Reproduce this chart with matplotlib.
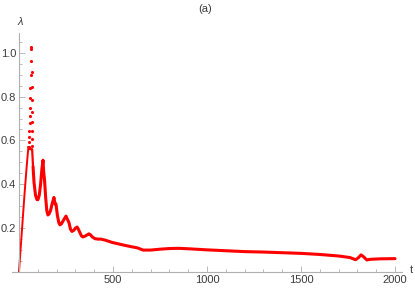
import matplotlib.pyplot as plt
from matplotlib.ticker import MultipleLocator

plt.rcParams['font.family'] = ['Liberation Sans', 'DejaVu Sans']

# main curve lambda(t)
t = [0, 10, 20, 30, 40, 50, 58, 64, 70, 75, 80, 88, 96, 101, 108, 115, 122, 128,
     131, 136, 142, 148, 154, 160, 168, 176, 186, 192, 197, 204, 212, 218, 226,
     236, 250, 258, 266, 274, 282, 292, 300, 309, 316, 324, 332, 340, 350, 360,
     372, 380, 390, 404, 420, 436, 460, 495, 530, 560, 600, 630, 660, 700, 750,
     800, 850, 900, 1000, 1100, 1200, 1300, 1400, 1500, 1600, 1700, 1760, 1790,
     1805, 1819, 1832, 1850, 1870, 1920, 2000]
lam = [0.0, 0.12, 0.24, 0.36, 0.47, 0.57, 0.56, 0.56, 0.56, 0.48, 0.41, 0.35,
       0.33, 0.33, 0.35, 0.40, 0.47, 0.51, 0.46, 0.42, 0.34, 0.28, 0.26, 0.265,
       0.28, 0.31, 0.34, 0.31, 0.31, 0.26, 0.225, 0.215, 0.22, 0.235, 0.255,
       0.24, 0.225, 0.195, 0.185, 0.19, 0.20, 0.205, 0.195, 0.18, 0.165, 0.16,
       0.163, 0.168, 0.174, 0.17, 0.16, 0.152, 0.15, 0.15, 0.145, 0.135, 0.128,
       0.122, 0.115, 0.11, 0.10, 0.10, 0.104, 0.107, 0.108, 0.106, 0.101, 0.097,
       0.093, 0.091, 0.088, 0.085, 0.080, 0.073, 0.066, 0.056, 0.065, 0.078,
       0.070, 0.055, 0.058, 0.060, 0.061]

# scattered points of the fast oscillation near the first peak
t_dots = [64, 64, 64, 69, 64, 69, 59, 59, 69, 59, 69, 59, 69, 59, 53, 69, 53,
          69, 53, 69, 53]
lam_dots = [1.027, 1.018, 0.963, 0.913, 0.90, 0.845, 0.84, 0.795, 0.785, 0.75,
            0.73, 0.712, 0.685, 0.68, 0.644, 0.644, 0.616, 0.607, 0.594, 0.575,
            0.571]

fig = plt.figure(figsize=(4.15, 2.9), dpi=100)
ax = fig.add_axes([12/415, 1 - 272/290, 390/415, 239/290])

# steep early part is thinner (sparse samples), the rest is a dense band
ax.plot(t[:6], lam[:6], color='red', lw=1.4, solid_capstyle='round')
ax.plot(t[5:10], lam[5:10], color='red', lw=1.6, solid_capstyle='round')
ax.plot(t[9:], lam[9:], color='red', lw=2.2, solid_capstyle='round')
ax.scatter(t_dots, lam_dots, s=5, color='red', linewidths=0)

ax.set_xlim(-37, 2037)
ax.set_ylim(0, 1.09)

axis_col = '#b0b0b0'
text_col = '#3c3c3c'
ax.spines['top'].set_visible(False)
ax.spines['right'].set_visible(False)
ax.spines['left'].set_position(('data', 0))
ax.spines['left'].set_color(axis_col)
ax.spines['bottom'].set_color(axis_col)
ax.spines['left'].set_linewidth(0.8)
ax.spines['bottom'].set_linewidth(0.8)

ax.xaxis.set_major_locator(MultipleLocator(500))
ax.xaxis.set_minor_locator(MultipleLocator(100))
ax.yaxis.set_major_locator(MultipleLocator(0.2))
ax.yaxis.set_minor_locator(MultipleLocator(0.05))
ax.tick_params(which='both', direction='in', color=axis_col, labelcolor=text_col,
               labelsize=8, width=0.6)
ax.tick_params(which='major', length=4)
ax.tick_params(which='minor', length=2.5)
ax.tick_params(axis='y', pad=2)
ax.tick_params(axis='x', pad=2)

ax.set_xticks([500, 1000, 1500, 2000])
ax.set_xticklabels(['500', '1000', '1500', '2000'])
ax.set_yticks([0.2, 0.4, 0.6, 0.8, 1.0])
ax.set_yticklabels(['0.2', '0.4', '0.6', '0.8', '1.0'])

fig.text(20/415, 1 - 22/290, 'λ', color=text_col, fontsize=8, style='italic',
         ha='center', va='center')
fig.text(411/415, 1 - 270/290, 't', color=text_col, fontsize=8,
         ha='center', va='center')
fig.text(205/415, 1 - 9/290, '(a)', color=text_col, fontsize=8,
         ha='center', va='center')

fig.savefig('out.png', dpi=100)
